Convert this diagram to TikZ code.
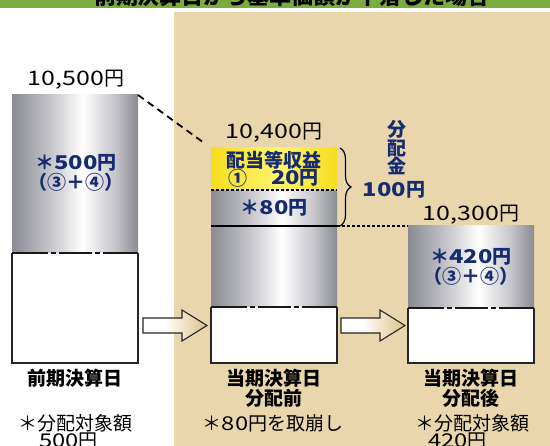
\documentclass[tikz,border=0pt]{standalone}
\usepackage{fontspec}
\usepackage{graphicx}
\setmainfont{Noto Sans CJK JP}
\usetikzlibrary{calc,decorations.pathreplacing}

\definecolor{titleGreen}{RGB}{122,172,62}
\definecolor{paleBeige}{RGB}{233,214,172}
\definecolor{barEdge}{RGB}{138,138,146}
\definecolor{barLight}{RGB}{196,196,202}
\definecolor{incomeEdge}{RGB}{246,222,30}
\definecolor{incomeLight}{RGB}{255,244,110}
\definecolor{arrowTan}{RGB}{222,192,132}
\definecolor{navyInk}{RGB}{22,44,112}

\pgfdeclarehorizontalshading{barShade}{100bp}{color(0bp)=(barEdge); color(25bp)=(barEdge);
  color(40bp)=(barLight); color(53bp)=(white); color(66bp)=(barLight); color(75bp)=(barEdge);
  color(100bp)=(barEdge)}
\pgfdeclarehorizontalshading{incomeShade}{100bp}{color(0bp)=(incomeEdge); color(25bp)=(incomeEdge);
  color(52bp)=(incomeLight); color(75bp)=(incomeEdge); color(100bp)=(incomeEdge)}
\pgfdeclarehorizontalshading{arrowShade}{100bp}{color(0bp)=(white); color(25bp)=(white);
  color(42bp)=(white); color(75bp)=(arrowTan); color(100bp)=(arrowTan)}

\newcommand{\wideNum}[1]{\scalebox{1.25}[1]{#1}}

\begin{document}
\begin{tikzpicture}
[x=1pt,y=-1pt,
  grayBar/.style={shade,shading=barShade,minimum width=126pt,inner sep=0pt,outer sep=0pt,anchor=north west},%
  whiteBox/.style={fill=white,minimum width=126pt,inner sep=0pt,outer sep=0pt,anchor=north west},%
  boxLine/.style={line width=1.1pt,color=black!85},%
  cutLine/.style={line width=1.6pt,color=black!90},%
  dashLine/.style={line width=1.8pt,dash pattern=on 7pt off 5pt},%
  dotLine/.style={line width=1.5pt,dash pattern=on 3pt off 2pt},%
  blockArrow/.style={draw=black!85,line width=1.1pt,shading=arrowShade,line join=miter},%
  valueText/.style={font=\fontsize{20}{20}\selectfont},%
  navyText/.style={text=navyInk,font=\fontsize{19}{17}\selectfont\bfseries,align=center,inner sep=0pt},%
  dateText/.style={font=\fontsize{19}{20}\selectfont\bfseries,align=center,inner sep=0pt},%
  noteText/.style={font=\fontsize{19}{19}\selectfont,inner sep=0pt}]
\useasboundingbox (0,0) rectangle (550,446);
%% backgrounds
\fill[titleGreen] (0,-20) rectangle (550,8);
\node[font=\fontsize{22}{22}\selectfont\bfseries] (title) at (292,-4) {前期決算日から基準価額が下落した場合};
\fill[paleBeige] (174,12) rectangle (550,446);
%% the three bars
\foreach \name/\x/\ytop/\ygray/\ywhite in {prev/12/95/158/110, pre/211/190/117/56, post/408/226/82/55}
{
  \node[grayBar,minimum height=\ygray pt] (\name Gray) at (\x,\ytop) {};
  \node[whiteBox,minimum height=\ywhite pt] (\name White) at (\name Gray.south west) {};
  \draw[boxLine] (\name White.north west) -- (\name White.south west)
    -- (\name White.south east) -- (\name White.north east);
  %% broken line between the two parts
  \foreach \a/\b in {0/36, 39/44, 47/80, 83/88, 91/126}
    \draw[cutLine] ($(\name White.north west)+(\a,0)$) -- ($(\name White.north west)+(\b,0)$);
}
%% income part on the middle bar
\node[grayBar,shading=incomeShade,minimum height=42pt] (income) at (211,148) {};
\draw[dotLine] (income.south west) -- (income.south east);
\coordinate (payLine) at (211,226);
\draw[line width=1.4pt] (preGray.west |- payLine) -- (preGray.east |- payLine);
%% values and amounts
\node[valueText] (prevValue) at (76,80) {\wideNum{10,500}円};
\node[valueText] (preValue) at (274,133) {\wideNum{10,400}円};
\node[valueText] (postValue) at (471,215) {\wideNum{10,300}円};
\node[navyText] (prevAmount) at (76,173) {＊\wideNum{500}円\\（③＋④）};
\node[navyText] (postAmount) at (471,267) {＊\wideNum{420}円\\（③＋④）};
\node[navyText] (incomeName) at (274,160) {配当等収益};
\node[navyText] (incomeNumber) at (238,178) {①};
\node[navyText] (incomeAmount) at (295,178) {\wideNum{20}円};
\node[navyText] (drawAmount) at (274,208) {＊\wideNum{80}円};
%% payout brace
\draw[line width=1.2pt,decorate,decoration={brace,amplitude=11pt}]
  ([xshift=3pt]income.north east) -- ([xshift=3pt]preGray.east |- payLine);
\node[navyText,font=\fontsize{19}{18.5}\selectfont\bfseries] (payout) at (397,148) {分\\配\\金};
\node[navyText] (payoutValue) at (394,190) {\wideNum{100}円};
%% connectors
\draw[dashLine,shorten >=9pt] (prevGray.north east) -- (income.north west);
\draw[dotLine] (preGray.east |- payLine) -- (postGray.north west);
\coordinate (arrowOneTail) at (143,325.5);
\coordinate (arrowOneTip) at (207,325.5);
\coordinate (arrowTwoTail) at (341,325.5);
\coordinate (arrowTwoTip) at (405,325.5);
\foreach \s/\e in {arrowOneTail/arrowOneTip, arrowTwoTail/arrowTwoTip}
{
  \shade[blockArrow] ($(\s)+(0,-7.5)$) -- ($(\e)+(-25,-7.5)$) -- ($(\e)+(-25,-15.5)$) -- (\e)
    -- ($(\e)+(-25,15.5)$) -- ($(\e)+(-25,7.5)$) -- ($(\s)+(0,7.5)$) -- cycle;
}
%% dates and notes
\node[dateText] (prevDate) at (75,378) {前期決算日};
\node[dateText] (preDate) at (274,388) {当期決算日\\分配前};
\node[dateText] (postDate) at (471,388) {当期決算日\\分配後};
\node[noteText] (prevNote) at (76,423) {＊分配対象額};
\node[noteText,anchor=west] (prevNoteValue) at (39,441) {\wideNum{500}円};
\node[noteText] (preNote) at (273,423) {＊\wideNum{80}円を取崩し};
\node[noteText] (postNote) at (472,423) {＊分配対象額};
\node[noteText,anchor=west] (postNoteValue) at (428,441) {\wideNum{420}円};
\end{tikzpicture}
\end{document}
